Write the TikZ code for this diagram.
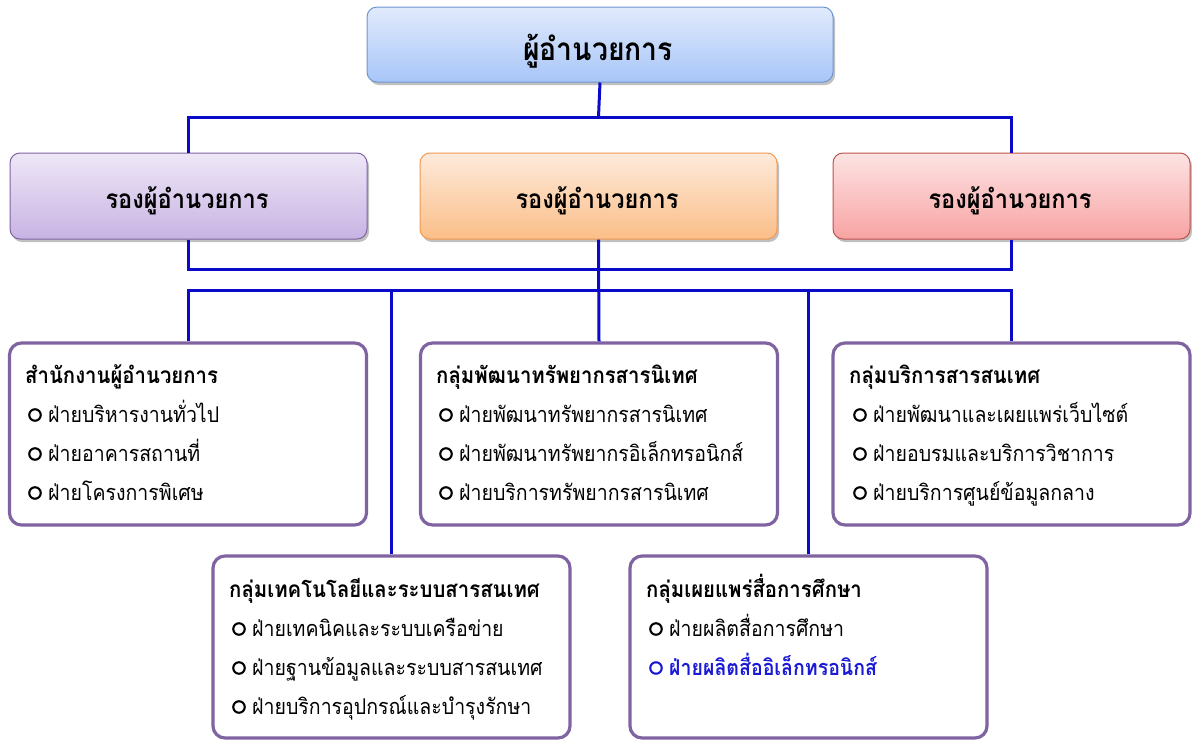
\documentclass[tikz,border=0pt]{standalone}
\usepackage{fontspec}
\newfontfamily\thai[Script=Thai, FakeStretch=0.9]{Loma}
\usetikzlibrary{shadows}

\definecolor{busblue}{HTML}{0A0AC8}
\definecolor{grpframe}{HTML}{8064A2}
\definecolor{hlblue}{HTML}{1A1AD6}
\definecolor{dirtop}{HTML}{E0EAFC}
\definecolor{dirbot}{HTML}{A8C6F8}
\definecolor{dirline}{HTML}{6F96D2}
\definecolor{purtop}{HTML}{EEE7F7}
\definecolor{purbot}{HTML}{C8B3E3}
\definecolor{purline}{HTML}{8064A2}
\definecolor{orgtop}{HTML}{FDEADB}
\definecolor{orgbot}{HTML}{FBBE88}
\definecolor{orgline}{HTML}{F39A4E}
\definecolor{redtop}{HTML}{FDE3E3}
\definecolor{redbot}{HTML}{F8A3A3}
\definecolor{redline}{HTML}{C0504D}

\tikzset{
  conn/.style={draw=busblue, line width=3pt},
  headbox/.style={rounded corners=10pt, line width=1pt, inner sep=0pt,
    drop shadow={shadow xshift=2pt, shadow yshift=-3pt, opacity=0.35, fill=black!70}},
  topbox/.style={headbox, draw=dirline, top color=dirtop, bottom color=dirbot,
    minimum width=466pt, minimum height=75pt},
  deputy/.style={headbox, minimum width=357pt, minimum height=86pt},
  purplebox/.style={deputy, draw=purline, top color=purtop, bottom color=purbot},
  orangebox/.style={deputy, draw=orgline, top color=orgtop, bottom color=orgbot},
  redbox/.style={deputy, draw=redline, top color=redtop, bottom color=redbot},
  grpbox/.style={draw=grpframe, fill=white, rounded corners=12pt, line width=3.2pt,
    minimum width=357pt, minimum height=182pt, inner sep=0pt},
  headtext/.style={font=\thai\bfseries\fontsize{31.5}{36}\selectfont},
  deptext/.style={font=\thai\bfseries\fontsize{26.2}{30}\selectfont},
  grptitle/.style={anchor=base west, inner sep=0pt, font=\thai\bfseries\fontsize{22.6}{26}\selectfont},
  grpitem/.style={anchor=base west, inner sep=0pt, font=\thai\fontsize{21.7}{26}\selectfont},
  ring/.style={circle, draw, line width=2.1pt, minimum size=11.5pt, inner sep=0pt},
}

% one unit section: ring bullet plus its text
\newcommand{\unitline}[5][black]{%
  \node[ring, draw=#1] (#2b) at (#3+26, #4-7) {};
  \node[grpitem, text=#1] (#2) at (#3+39, #4) {#5};
}

\begin{document}
\begin{tikzpicture}[x=1pt, y=-1pt]
\useasboundingbox[fill=white] (0,0) rectangle (1192,740);

% director
\node[topbox] (dir) at (600,44.5) {};
\node[headtext, anchor=base] (dirt) at (598,60) {ผู้อำนวยการ};

% deputy directors
\node[purplebox] (vpL) at (188.5,196) {};
\node[orangebox] (vpM) at (598.5,196) {};
\node[redbox]    (vpR) at (1011.5,196) {};
\node[deptext, anchor=base] (vpLt) at (187,208) {รองผู้อำนวยการ};
\node[deptext, anchor=base] (vpMt) at (597,208) {รองผู้อำนวยการ};
\node[deptext, anchor=base] (vpRt) at (1010,208) {รองผู้อำนวยการ};

% groups
\node[grpbox] (gL)  at (188,434) {};
\node[grpbox] (gM)  at (599,434) {};
\node[grpbox] (gR)  at (1011.5,434) {};
\node[grpbox] (gBL) at (391.5,647) {};
\node[grpbox] (gBR) at (808.5,647) {};

% connectors
\coordinate (bus1) at (598.5,117);
\coordinate (bus2) at (598.5,269);
\coordinate (bus3) at (598.5,290);
\draw[conn] (dir.south) -- (bus1);
\draw[conn] (vpL.north) |- (bus1) -| (vpR.north);
\draw[conn] (vpL.south) |- (bus2) -| (vpR.south);
\draw[conn] (vpM.south) -- (gM.north);
\draw[conn] (gL.north) |- (bus3) -| (gR.north);
\draw[conn] (gBL.north) -- (gBL.north |- bus3);
\draw[conn] (gBR.north) -- (gBR.north |- bus3);

% group texts
\node[grptitle] (gLt) at (25,383) {สำนักงานผู้อำนวยการ};
\unitline{gL1}{9}{422}{ฝ่ายบริหารงานทั่วไป}
\unitline{gL2}{9}{461}{ฝ่ายอาคารสถานที่}
\unitline{gL3}{9}{500}{ฝ่ายโครงการพิเศษ}

\node[grptitle] (gMt) at (436,383) {กลุ่มพัฒนาทรัพยากรสารนิเทศ};
\unitline{gM1}{420}{422}{ฝ่ายพัฒนาทรัพยากรสารนิเทศ}
\unitline{gM2}{420}{461}{ฝ่ายพัฒนาทรัพยากรอิเล็กทรอนิกส์}
\unitline{gM3}{420}{500}{ฝ่ายบริการทรัพยากรสารนิเทศ}

\node[grptitle] (gRt) at (849,383) {กลุ่มบริการสารสนเทศ};
\unitline{gR1}{834}{422}{ฝ่ายพัฒนาและเผยแพร่เว็บไซต์}
\unitline{gR2}{834}{461}{ฝ่ายอบรมและบริการวิชาการ}
\unitline{gR3}{834}{500}{ฝ่ายบริการศูนย์ข้อมูลกลาง}

\node[grptitle] (gBLt) at (229,597) {กลุ่มเทคโนโลยีและระบบสารสนเทศ};
\unitline{gBL1}{213}{636}{ฝ่ายเทคนิคและระบบเครือข่าย}
\unitline{gBL2}{213}{675}{ฝ่ายฐานข้อมูลและระบบสารสนเทศ}
\unitline{gBL3}{213}{714}{ฝ่ายบริการอุปกรณ์และบำรุงรักษา}

\node[grptitle] (gBRt) at (646,597) {กลุ่มเผยแพร่สื่อการศึกษา};
\unitline{gBR1}{630}{636}{ฝ่ายผลิตสื่อการศึกษา}
\unitline[hlblue]{gBR2}{630}{675}{\bfseries ฝ่ายผลิตสื่ออิเล็กทรอนิกส์}
\end{tikzpicture}
\end{document}
